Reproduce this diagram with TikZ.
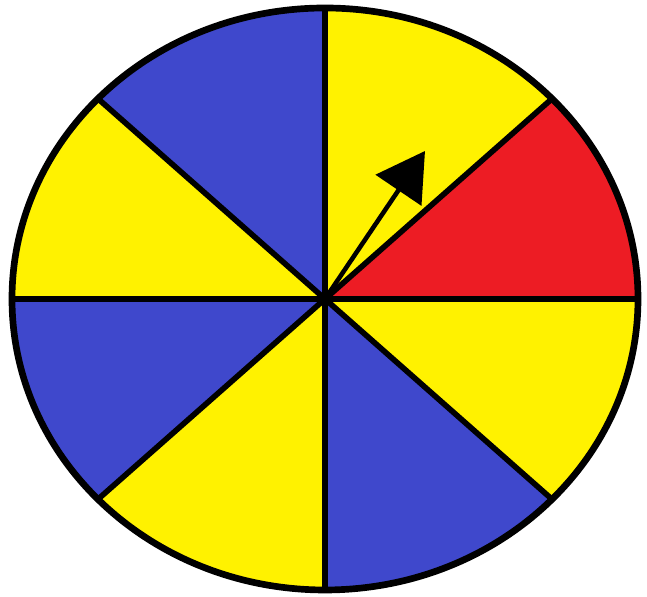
\documentclass[tikz,border=0pt]{standalone}
\usetikzlibrary{arrows.meta}
\definecolor{spinblue}{HTML}{3F48CC}
\definecolor{spinyellow}{HTML}{FFF200}
\definecolor{spinred}{HTML}{ED1C24}

\begin{document}
\begin{tikzpicture}[line cap=round,line join=round,x=0.02cm,y=0.02cm]
  \useasboundingbox (0,0) rectangle (647,597);
  \coordinate (hub) at (325,298);
  \foreach \a/\b/\c in {0/43.5/spinred,43.5/90/spinyellow,90/136.5/spinblue,
                        136.5/180/spinyellow,180/223.5/spinblue,223.5/270/spinyellow,
                        270/316.5/spinblue,316.5/360/spinyellow} {
    \fill[\c] (hub) -- ++(\a:313 and 291)
      arc[start angle=\a,end angle=\b,x radius=313,y radius=291] -- cycle;
  }
  \foreach \a in {0,43.5,90,136.5,180,223.5,270,316.5} {
    \draw[line width=3.2pt] (hub) -- ++(\a:313 and 291);
  }
  \draw[line width=3.8pt] (hub) ellipse[x radius=313,y radius=291];
  \coordinate (tip) at (425,446);
  \draw[line width=2.6pt,-{Triangle[length=27pt,width=31pt]}] (hub) -- (tip);
\end{tikzpicture}
\end{document}
